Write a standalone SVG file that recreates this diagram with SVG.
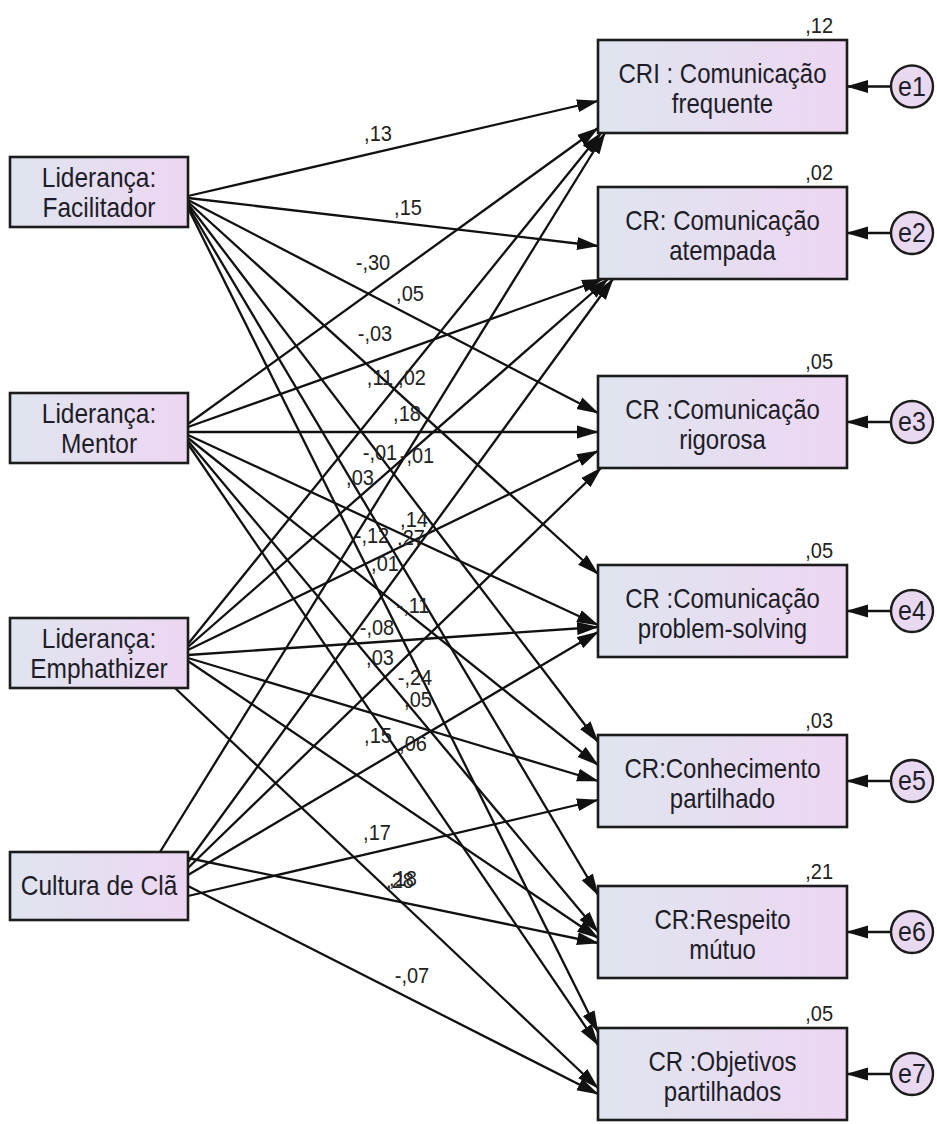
<svg xmlns="http://www.w3.org/2000/svg" width="937" height="1124" viewBox="0 0 937 1124">
  <defs>
    <linearGradient id="nodeFill" x1="0" y1="0" x2="1" y2="0">
      <stop offset="0" stop-color="#dfe5ef"/>
      <stop offset="1" stop-color="#edd6f2"/>
    </linearGradient>
    <marker id="ah" markerUnits="userSpaceOnUse" markerWidth="24" markerHeight="14" refX="21" refY="7" orient="auto">
      <path d="M0,0.5 L22,7 L0,13.5 z" fill="#111"/>
    </marker>
    <style>
      .box { fill: url(#nodeFill); stroke: #1c1c1c; stroke-width: 2.6; }
      .err { fill: #e9d9f0; stroke: #1c1c1c; stroke-width: 2.4; }
      .path { stroke: #111; stroke-width: 2.3; fill: none; marker-end: url(#ah); }
      .t { font-family: "Liberation Sans", Arial, sans-serif; fill: #1d1d28; text-anchor: middle; }
      .node { font-size: 24px; }
      .lnode { font-size: 24.5px; }
      .etxt { font-size: 25px; }
      .num { font-family: "Liberation Sans", Arial, sans-serif; font-size: 20px; fill: #222; text-anchor: middle; }
      .r2 { font-family: "Liberation Sans", Arial, sans-serif; font-size: 20px; fill: #222; text-anchor: end; }
    </style>
  </defs>

  <rect width="937" height="1124" fill="#ffffff"/>

  <!-- regression paths -->
  <g id="connectors">
    <!-- Facilitador -->
    <line class="path" x1="188" y1="196" x2="598" y2="101"/>
    <line class="path" x1="188" y1="198" x2="598" y2="246"/>
    <line class="path" x1="188" y1="200" x2="598" y2="413"/>
    <line class="path" x1="188" y1="202" x2="598" y2="574"/>
    <line class="path" x1="188" y1="204" x2="598" y2="742"/>
    <line class="path" x1="188" y1="206" x2="598" y2="895"/>
    <line class="path" x1="188" y1="208" x2="598" y2="1032"/>
    <!-- Mentor -->
    <line class="path" x1="188" y1="424" x2="598" y2="128"/>
    <line class="path" x1="188" y1="427" x2="603" y2="279"/>
    <line class="path" x1="188" y1="432" x2="598" y2="432"/>
    <line class="path" x1="188" y1="435" x2="598" y2="625"/>
    <line class="path" x1="188" y1="438" x2="598" y2="765"/>
    <line class="path" x1="188" y1="441" x2="598" y2="932"/>
    <line class="path" x1="188" y1="444" x2="598" y2="1045"/>
    <!-- Emphathizer -->
    <line class="path" x1="188" y1="644" x2="601" y2="133"/>
    <line class="path" x1="188" y1="647" x2="608" y2="279"/>
    <line class="path" x1="188" y1="650" x2="598" y2="451"/>
    <line class="path" x1="188" y1="655" x2="598" y2="627"/>
    <line class="path" x1="188" y1="658" x2="598" y2="781"/>
    <line class="path" x1="188" y1="661" x2="598" y2="938"/>
    <line class="path" x1="175" y1="688" x2="598" y2="1088"/>
    <!-- Cultura de Clã -->
    <line class="path" x1="160" y1="852" x2="605" y2="133"/>
    <line class="path" x1="188" y1="862" x2="613" y2="279"/>
    <line class="path" x1="188" y1="868" x2="601" y2="468"/>
    <line class="path" x1="188" y1="875" x2="598" y2="632"/>
    <line class="path" x1="188" y1="896" x2="598" y2="800"/>
    <line class="path" x1="188" y1="858" x2="598" y2="943"/>
    <line class="path" x1="188" y1="886" x2="598" y2="1094"/>
    <!-- residuals -->
    <line class="path" x1="891" y1="86.5" x2="847" y2="86.5"/>
    <line class="path" x1="891" y1="233" x2="847" y2="233"/>
    <line class="path" x1="891" y1="422" x2="847" y2="422"/>
    <line class="path" x1="891" y1="611" x2="847" y2="611"/>
    <line class="path" x1="891" y1="781" x2="847" y2="781"/>
    <line class="path" x1="891" y1="932" x2="847" y2="932"/>
    <line class="path" x1="891" y1="1074" x2="847" y2="1074"/>
  </g>

  <!-- path coefficients -->
  <g id="coefficients">
    <text class="num" transform="translate(378 141) scale(1 1.12)">,13</text>
    <text class="num" transform="translate(408 215) scale(1 1.12)">,15</text>
    <text class="num" transform="translate(373 270) scale(1 1.12)">-,30</text>
    <text class="num" transform="translate(410 301) scale(1 1.12)">,05</text>
    <text class="num" transform="translate(375 341) scale(1 1.12)">-,03</text>
    <text class="num" transform="translate(380 385) scale(1 1.12)">,11</text>
    <text class="num" transform="translate(412 385) scale(1 1.12)">,02</text>
    <text class="num" transform="translate(407 421) scale(1 1.12)">,18</text>
    <text class="num" transform="translate(380 460) scale(1 1.12)">-,01</text>
    <text class="num" transform="translate(417 463) scale(1 1.12)">-,01</text>
    <text class="num" transform="translate(360 485) scale(1 1.12)">,03</text>
    <text class="num" transform="translate(372 543) scale(1 1.12)">-,12</text>
    <text class="num" transform="translate(414 527) scale(1 1.12)">,14</text>
    <text class="num" transform="translate(411 545) scale(1 1.12)">,27</text>
    <text class="num" transform="translate(385 571) scale(1 1.12)">,01</text>
    <text class="num" transform="translate(413 613) scale(1 1.12)">-,11</text>
    <text class="num" transform="translate(377 635) scale(1 1.12)">-,08</text>
    <text class="num" transform="translate(380 665) scale(1 1.12)">,03</text>
    <text class="num" transform="translate(415 685) scale(1 1.12)">-,24</text>
    <text class="num" transform="translate(418 707) scale(1 1.12)">,05</text>
    <text class="num" transform="translate(378 743) scale(1 1.12)">,15</text>
    <text class="num" transform="translate(413 751) scale(1 1.12)">,06</text>
    <text class="num" transform="translate(377 840) scale(1 1.12)">,17</text>
    <text class="num" transform="translate(400 888) scale(1 1.12)">,28</text>
    <text class="num" transform="translate(403 886) scale(1 1.12)">,18</text>
    <text class="num" transform="translate(412 983) scale(1 1.12)">-,07</text>
  </g>

  <!-- exogenous variables -->
  <g id="facilitador">
    <rect class="box" x="10" y="157" width="178" height="70"/>
    <text class="t lnode" transform="translate(99 187) scale(1 1.15)">Liderança:</text>
    <text class="t lnode" transform="translate(99 217) scale(1 1.15)">Facilitador</text>
  </g>
  <g id="mentor">
    <rect class="box" x="10" y="393" width="178" height="70"/>
    <text class="t lnode" transform="translate(99 423) scale(1 1.15)">Liderança:</text>
    <text class="t lnode" transform="translate(99 453) scale(1 1.15)">Mentor</text>
  </g>
  <g id="emphathizer">
    <rect class="box" x="10" y="618" width="178" height="70"/>
    <text class="t lnode" transform="translate(99 648) scale(1 1.15)">Liderança:</text>
    <text class="t lnode" transform="translate(99 678) scale(1 1.15)">Emphathizer</text>
  </g>
  <g id="cultura">
    <rect class="box" x="10" y="852" width="178" height="68"/>
    <text class="t lnode" transform="translate(99 895) scale(1 1.15)">Cultura de Clã</text>
  </g>

  <!-- endogenous variables -->
  <g id="cr1">
    <rect class="box" x="598" y="40" width="249" height="93"/>
    <text class="t node" transform="translate(722.5 83) scale(1 1.15)">CRI : Comunicação</text>
    <text class="t node" transform="translate(722.5 113) scale(1 1.15)">frequente</text>
    <text class="r2" transform="translate(833 33) scale(1 1.12)">,12</text>
  </g>
  <g id="cr2">
    <rect class="box" x="598" y="187" width="249" height="92"/>
    <text class="t node" transform="translate(722.5 230) scale(1 1.15)">CR: Comunicação</text>
    <text class="t node" transform="translate(722.5 260) scale(1 1.15)">atempada</text>
    <text class="r2" transform="translate(833 180) scale(1 1.12)">,02</text>
  </g>
  <g id="cr3">
    <rect class="box" x="598" y="376" width="249" height="92"/>
    <text class="t node" transform="translate(722.5 419) scale(1 1.15)">CR :Comunicação</text>
    <text class="t node" transform="translate(722.5 449) scale(1 1.15)">rigorosa</text>
    <text class="r2" transform="translate(833 369) scale(1 1.12)">,05</text>
  </g>
  <g id="cr4">
    <rect class="box" x="598" y="565" width="249" height="92"/>
    <text class="t node" transform="translate(722.5 608) scale(1 1.15)">CR :Comunicação</text>
    <text class="t node" transform="translate(722.5 638) scale(1 1.15)">problem-solving</text>
    <text class="r2" transform="translate(833 558) scale(1 1.12)">,05</text>
  </g>
  <g id="cr5">
    <rect class="box" x="598" y="735" width="249" height="92"/>
    <text class="t node" transform="translate(722.5 778) scale(1 1.15)">CR:Conhecimento</text>
    <text class="t node" transform="translate(722.5 808) scale(1 1.15)">partilhado</text>
    <text class="r2" transform="translate(833 728) scale(1 1.12)">,03</text>
  </g>
  <g id="cr6">
    <rect class="box" x="598" y="886" width="249" height="92"/>
    <text class="t node" transform="translate(722.5 929) scale(1 1.15)">CR:Respeito</text>
    <text class="t node" transform="translate(722.5 959) scale(1 1.15)">mútuo</text>
    <text class="r2" transform="translate(833 879) scale(1 1.12)">,21</text>
  </g>
  <g id="cr7">
    <rect class="box" x="598" y="1028" width="249" height="92"/>
    <text class="t node" transform="translate(722.5 1071) scale(1 1.15)">CR :Objetivos</text>
    <text class="t node" transform="translate(722.5 1101) scale(1 1.15)">partilhados</text>
    <text class="r2" transform="translate(833 1021) scale(1 1.12)">,05</text>
  </g>

  <!-- residual terms -->
  <g id="e1"><circle class="err" cx="912" cy="86.5" r="21"/><text class="t etxt" transform="translate(912 95.5) scale(1 1.1)">e1</text></g>
  <g id="e2"><circle class="err" cx="912" cy="233" r="21"/><text class="t etxt" transform="translate(912 242) scale(1 1.1)">e2</text></g>
  <g id="e3"><circle class="err" cx="912" cy="422" r="21"/><text class="t etxt" transform="translate(912 431) scale(1 1.1)">e3</text></g>
  <g id="e4"><circle class="err" cx="912" cy="611" r="21"/><text class="t etxt" transform="translate(912 620) scale(1 1.1)">e4</text></g>
  <g id="e5"><circle class="err" cx="912" cy="781" r="21"/><text class="t etxt" transform="translate(912 790) scale(1 1.1)">e5</text></g>
  <g id="e6"><circle class="err" cx="912" cy="932" r="21"/><text class="t etxt" transform="translate(912 941) scale(1 1.1)">e6</text></g>
  <g id="e7"><circle class="err" cx="912" cy="1074" r="21"/><text class="t etxt" transform="translate(912 1083) scale(1 1.1)">e7</text></g>
</svg>
